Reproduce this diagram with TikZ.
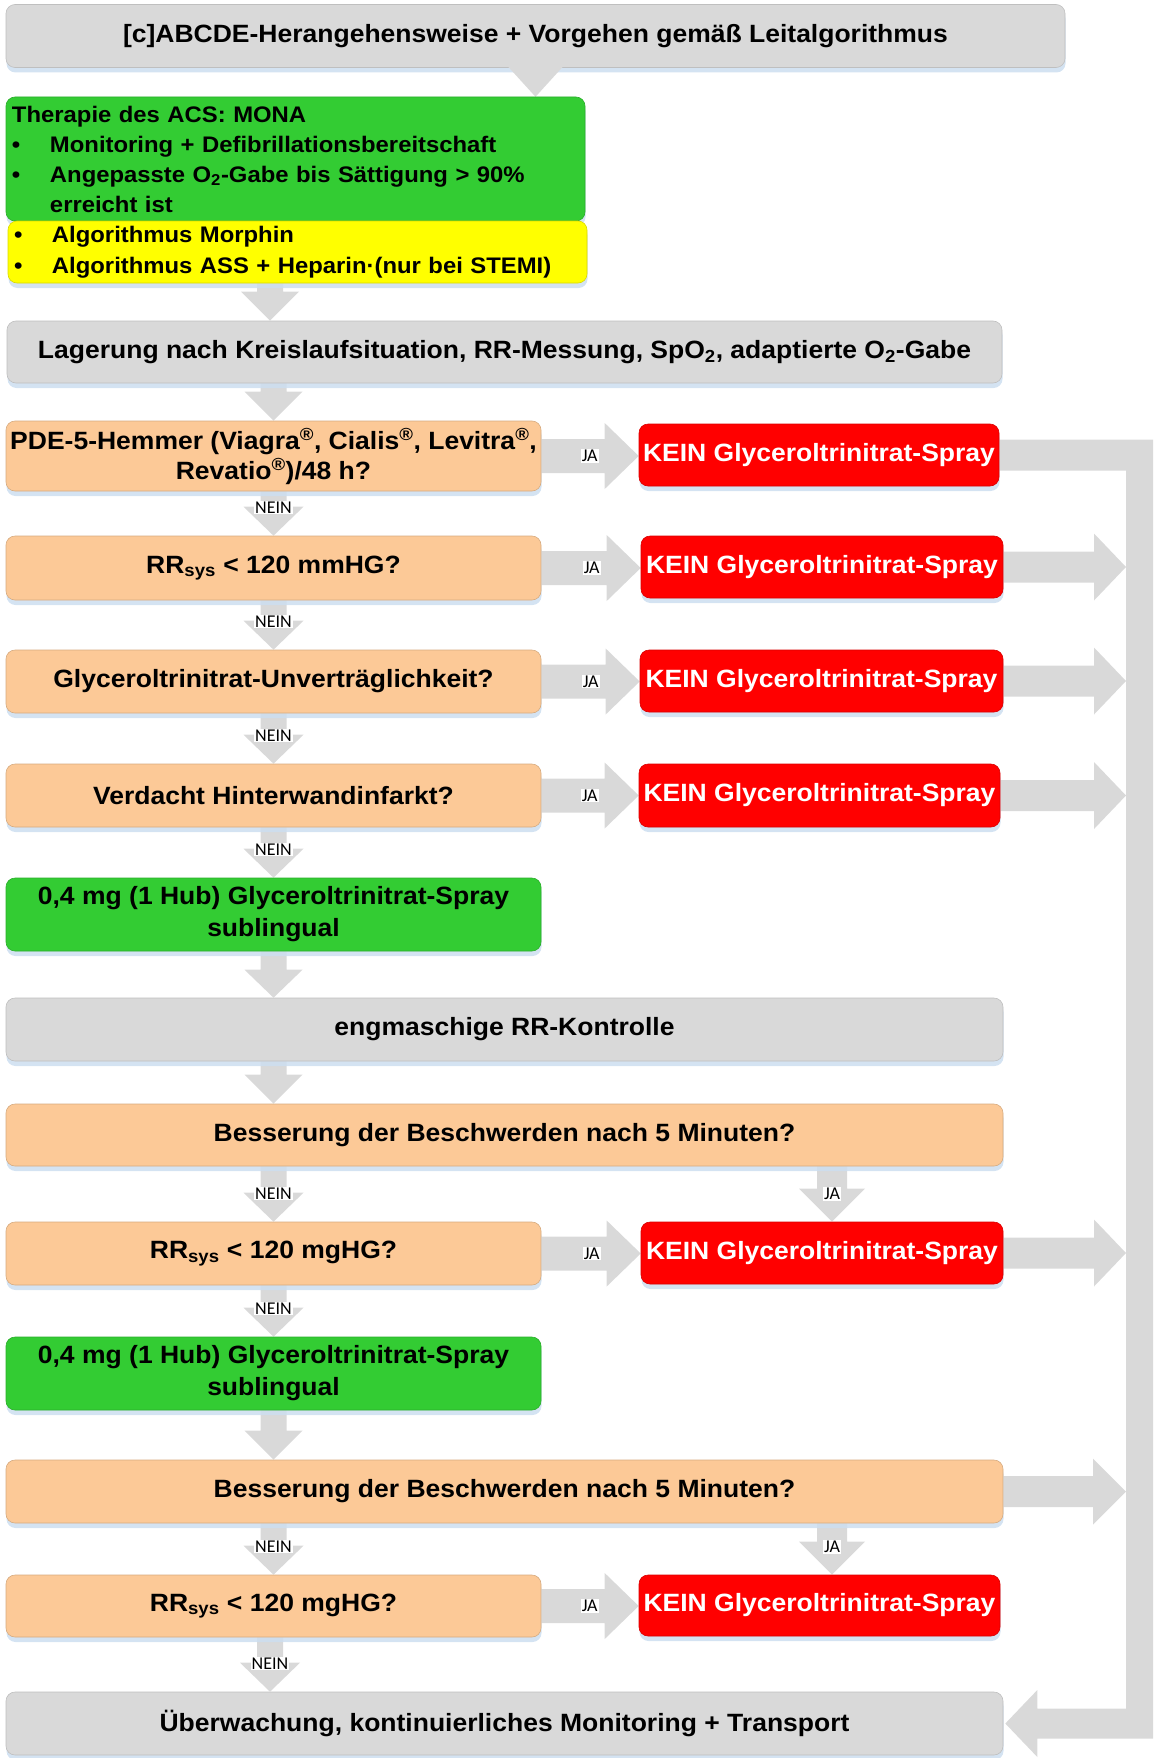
\documentclass[tikz,border=0pt]{standalone}
\usepackage{fontspec}
\setmainfont{Liberation Sans}[FakeStretch=1.06]
\newfontfamily\lblfont{Carlito}
\usetikzlibrary{calc,shadows,backgrounds}

\definecolor{boxgrey}{RGB}{217,217,217}
\definecolor{peach}{RGB}{252,201,151}
\definecolor{okgreen}{RGB}{51,204,51}
\definecolor{warnyellow}{RGB}{255,255,0}
\definecolor{stopred}{RGB}{255,0,0}
\definecolor{shadowblue}{RGB}{205,222,240}

\tikzset{
  panel/.style={rounded corners=9pt, inner sep=0pt, align=center, line width=0.6pt,
    drop shadow={shadow xshift=0.5pt, shadow yshift=-5pt, fill=shadowblue, opacity=0.85},
    font=\bfseries\fontsize{25}{30}\selectfont},
  greybox/.style={panel, fill=boxgrey, draw=boxgrey!88!black},
  askbox/.style={panel, fill=peach, draw=peach!85!black},
  gobox/.style={panel, fill=okgreen, draw=okgreen!85!black},
  warnbox/.style={panel, fill=warnyellow, draw=warnyellow!85!black},
  nobox/.style={panel, fill=stopred, draw=stopred!85!black, text=white},
  lbl/.style={fill=white, inner sep=1pt, font=\lblfont\fontsize{18}{18}\selectfont},
  blockarrow/.style={fill=boxgrey},
}

% block arrow pointing down: from, to, column, shaft half width, head half width, head length, label point
\newcommand\arrdown[7]{%
  \fill[blockarrow] let \p1=(#1), \p2=(#2), \p3=(#3) in
    (\x3-#4pt,\y1) -- (\x3+#4pt,\y1) -- (\x3+#4pt,\y2+#6pt) -- (\x3+#5pt,\y2+#6pt)
    -- (\x3,\y2) -- (\x3-#5pt,\y2+#6pt) -- (\x3-#4pt,\y2+#6pt) -- cycle
    (\x3,\y2+28pt) coordinate (#7);}
% block arrow pointing right: from, to, shaft half width, head half width, head length, label point, label distance from tip
\newcommand\arrright[7]{%
  \fill[blockarrow] let \p1=(#1), \p2=(#2) in
    (\x1,\y1+#3pt) -- (\x2-#5pt,\y1+#3pt) -- (\x2-#5pt,\y1+#4pt) -- (\x2,\y1)
    -- (\x2-#5pt,\y1-#4pt) -- (\x2-#5pt,\y1-#3pt) -- (\x1,\y1-#3pt) -- cycle
    (\x2-#7pt,\y1) coordinate (#6);}

\begin{document}
\begin{tikzpicture}[x=1pt,y=-1pt]
\useasboundingbox (0,0) rectangle (1154,1758);

\coordinate (colL) at (273.5,0);
\coordinate (colL2) at (270,0);
\coordinate (colR) at (832,0);
\coordinate (barL) at (1126,0);

% ---------- boxes ----------
\node[greybox, minimum width=1059pt, minimum height=63pt, font=\bfseries\fontsize{25}{28}\selectfont]
  (top) at (535.5,36) {[c]ABCDE-Herangehensweise + Vorgehen gemäß Leitalgorithmus};
\fill[boxgrey] ($(top.south)+(-30pt,4pt)$) -- ($(top.south)+(30pt,4pt)$) -- ($(top.south)+(0pt,-29pt)$) -- cycle;

\node[gobox, minimum width=579pt, minimum height=124pt, align=left, text width=567pt,
      font=\bfseries\fontsize{22.5}{30}\selectfont] (mona) at (295.5,159)
  {Therapie des ACS: MONA\\
   \makebox[38pt][l]{•}Monitoring + Defibrillationsbereitschaft\\
   \makebox[38pt][l]{•}Angepasste O\textsubscript{2}-Gabe bis Sättigung > 90\%\\
   \hspace*{38pt}erreicht ist};
\node[warnbox, minimum width=579pt, minimum height=62pt, align=left, text width=567pt,
      font=\bfseries\fontsize{22.5}{31}\selectfont] (morph) at (297.5,252)
  {\makebox[38pt][l]{•}Algorithmus Morphin\\
   \makebox[38pt][l]{•}Algorithmus ASS + Heparin·(nur bei STEMI)};

\node[greybox, minimum width=995pt, minimum height=62pt] (lag) at (504.5,352)
  {Lagerung nach Kreislaufsituation, RR-Messung, SpO\textsubscript{2}, adaptierte O\textsubscript{2}-Gabe};

\node[askbox, minimum width=535pt, minimum height=70pt] (pde) at (273.5,456)
  {PDE-5-Hemmer (Viagra\textsuperscript{®}, Cialis\textsuperscript{®}, Levitra\textsuperscript{®},\\
   Revatio\textsuperscript{®})/48 h?};
\node[nobox, minimum width=360pt, minimum height=62pt] (k1) at (819,455) {KEIN Glyceroltrinitrat-Spray};

\node[askbox, minimum width=535pt, minimum height=64pt] (rr1) at (273.5,568)
  {RR\textsubscript{sys} < 120 mmHG?};
\node[nobox, minimum width=362pt, minimum height=62pt] (k2) at (822,567) {KEIN Glyceroltrinitrat-Spray};

\node[askbox, minimum width=535pt, minimum height=63pt] (gly) at (273.5,681.5)
  {Glyceroltrinitrat-Unverträglichkeit?};
\node[nobox, minimum width=363pt, minimum height=62pt] (k3) at (821.5,681) {KEIN Glyceroltrinitrat-Spray};

\node[askbox, minimum width=535pt, minimum height=63pt] (ver) at (273.5,795.5)
  {Verdacht Hinterwandinfarkt?};
\node[nobox, minimum width=361pt, minimum height=63pt] (k4) at (819.5,795.5) {KEIN Glyceroltrinitrat-Spray};

\node[gobox, minimum width=535pt, minimum height=73pt, font=\bfseries\fontsize{25}{32}\selectfont]
  (gtn1) at (273.5,914.5) {0,4 mg (1 Hub) Glyceroltrinitrat-Spray\\ sublingual};

\node[greybox, minimum width=997pt, minimum height=63pt] (eng) at (504.5,1029.5) {engmaschige RR-Kontrolle};

\node[askbox, minimum width=997pt, minimum height=62pt] (bes1) at (504.5,1135)
  {Besserung der Beschwerden nach 5 Minuten?};

\node[askbox, minimum width=535pt, minimum height=63pt] (rr2) at (273.5,1253.5)
  {RR\textsubscript{sys} < 120 mgHG?};
\node[nobox, minimum width=362pt, minimum height=62pt] (k5) at (822,1253) {KEIN Glyceroltrinitrat-Spray};

\node[gobox, minimum width=535pt, minimum height=73pt, font=\bfseries\fontsize{25}{32}\selectfont]
  (gtn2) at (273.5,1373.5) {0,4 mg (1 Hub) Glyceroltrinitrat-Spray\\ sublingual};

\node[askbox, minimum width=997pt, minimum height=63pt] (bes2) at (504.5,1491.5)
  {Besserung der Beschwerden nach 5 Minuten?};

\node[askbox, minimum width=535pt, minimum height=62pt] (rr3) at (273.5,1606)
  {RR\textsubscript{sys} < 120 mgHG?};
\node[nobox, minimum width=361pt, minimum height=61pt] (k6) at (819.5,1605.5) {KEIN Glyceroltrinitrat-Spray};

\node[greybox, minimum width=997pt, minimum height=63pt] (ueb) at (504.5,1723.5)
  {Überwachung, kontinuierliches Monitoring + Transport};

% ---------- block arrows ----------
\begin{scope}[on background layer]
  \arrdown{morph.south}{lag.north}{colL2}{13}{29}{29}{p1}
  \arrdown{lag.south}{pde.north}{colL}{13}{29}{29}{p2}
  \arrdown{pde.south}{rr1.north}{colL}{13}{30}{29}{n1}
  \arrdown{rr1.south}{gly.north}{colL}{13}{30}{29}{n2}
  \arrdown{gly.south}{ver.north}{colL}{13}{30}{29}{n3}
  \arrdown{ver.south}{gtn1.north}{colL}{13}{30}{29}{n4}
  \arrdown{gtn1.south}{eng.north}{colL}{13}{29}{28}{p3}
  \arrdown{eng.south}{bes1.north}{colL}{13}{29}{29}{p4}
  \arrdown{bes1.south}{rr2.north}{colL}{13}{30}{29}{n5}
  \arrdown{bes1.south}{k5.north}{colR}{15}{33}{33}{y5}
  \arrdown{rr2.south}{gtn2.north}{colL}{13}{30}{29}{n6}
  \arrdown{gtn2.south}{bes2.north}{colL}{13}{29}{29}{p5}
  \arrdown{bes2.south}{rr3.north}{colL}{13}{30}{29}{n7}
  \arrdown{bes2.south}{k6.north}{colR}{15}{33}{33}{y6}
  \arrdown{rr3.south}{ueb.north}{colL2}{13}{30}{29}{n8}

  \arrright{pde.east}{k1.west}{17}{33}{34}{j1}{49}
  \arrright{rr1.east}{k2.west}{17}{33}{34}{j2}{49}
  \arrright{gly.east}{k3.west}{17}{33}{34}{j3}{49}
  \arrright{ver.east}{k4.west}{17}{33}{34}{j4}{49}
  \arrright{rr2.east}{k5.west}{17}{33}{34}{j5}{49}
  \arrright{rr3.east}{k6.west}{17}{33}{34}{j6}{49}

  \arrright{k2.east}{barL}{15.5}{33.5}{32}{b2}{0}
  \arrright{k3.east}{barL}{15.5}{33.5}{32}{b3}{0}
  \arrright{k4.east}{barL}{15.5}{33.5}{32}{b4}{0}
  \arrright{k5.east}{barL}{15.5}{33.5}{32}{b5}{0}
  \arrright{bes2.east}{barL}{15.5}{33}{33}{b6}{0}

  % return path along the right edge into the final box
  \fill[blockarrow] let \p1=(k1.east), \p2=(ueb.east), \p3=(barL) in
    (\x1,\y1+15.5pt) -- (\x3+27pt,\y1+15.5pt) -- (\x3+27pt,\y2-15pt) -- (\x2+34pt,\y2-15pt)
    -- (\x2+34pt,\y2-33.5pt) -- (\x2+2pt,\y2) -- (\x2+34pt,\y2+33.5pt) -- (\x2+34pt,\y2+15pt)
    -- (\x3,\y2+15pt) -- (\x3,\y1-15.5pt) -- (\x1,\y1-15.5pt) -- cycle;
\end{scope}

% ---------- labels ----------
\node[lbl] (ln1) at (n1) {NEIN};
\node[lbl] (ln2) at (n2) {NEIN};
\node[lbl] (ln3) at (n3) {NEIN};
\node[lbl] (ln4) at (n4) {NEIN};
\node[lbl] (ln5) at (n5) {NEIN};
\node[lbl] (ln6) at (n6) {NEIN};
\node[lbl] (ln7) at (n7) {NEIN};
\node[lbl] (ln8) at (n8) {NEIN};
\node[lbl] (ly5) at (y5) {JA};
\node[lbl] (ly6) at (y6) {JA};
\node[lbl] (lj1) at (j1) {JA};
\node[lbl] (lj2) at (j2) {JA};
\node[lbl] (lj3) at (j3) {JA};
\node[lbl] (lj4) at (j4) {JA};
\node[lbl] (lj5) at (j5) {JA};
\node[lbl] (lj6) at (j6) {JA};
\end{tikzpicture}
\end{document}
